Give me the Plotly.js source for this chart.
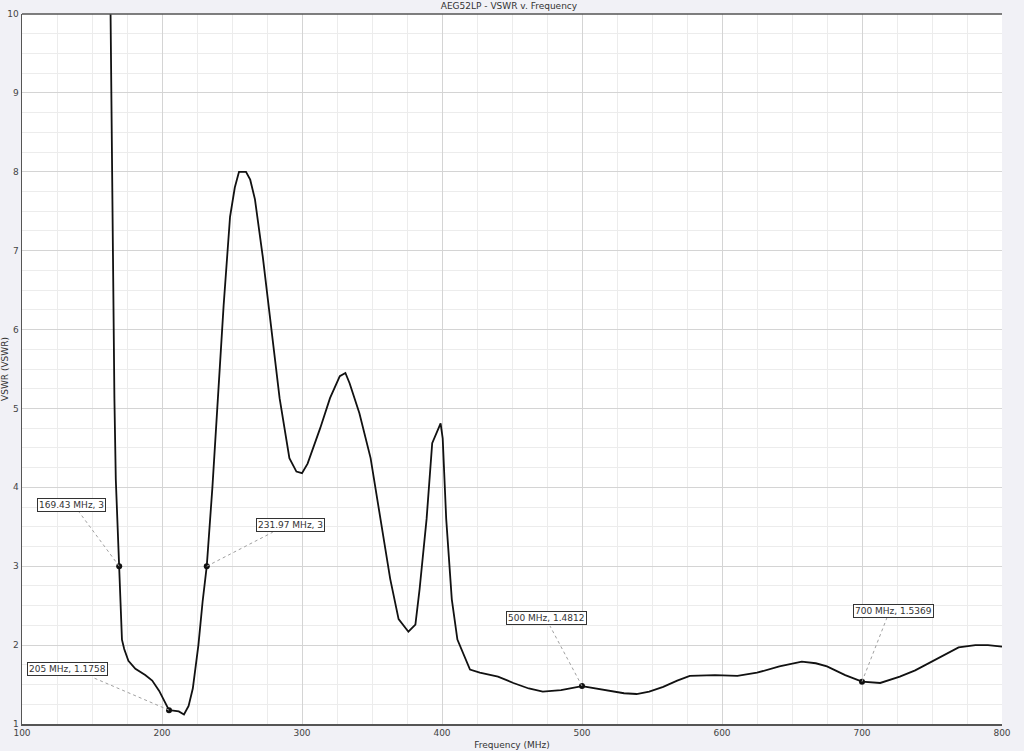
<!DOCTYPE html>
<html>
<head>
<meta charset="utf-8">
<script src="https://cdn.plot.ly/plotly-3.0.1.min.js"></script>
<style>
html,body{margin:0;padding:0;background:#f1f1f6;}
#chart{width:1024px;height:751px;}
</style>
</head>
<body>
<div id="chart"></div>
<script>
// Frequency (MHz) and VSWR
var freq = [162.7, 163.2, 163.6, 164.2, 164.8, 165.1, 166, 167, 169.43, 170.5, 171.4, 173, 176, 181, 188, 193, 198, 202, 205, 208, 212, 215.7, 219, 222, 226, 229, 231.97, 236, 240, 244, 248.6, 252, 255, 260, 263, 266.4, 272, 278, 284, 291, 296, 300, 304, 313, 320, 327, 331, 334, 341, 349, 356, 363, 369, 376, 381, 384, 389, 393, 399, 400.5, 403, 407, 411, 420, 427, 440, 451, 462, 472, 485, 500, 518, 530, 539, 548, 558, 568, 577, 595, 611, 625, 641, 657, 667, 675, 688, 700, 713, 727, 738, 749, 760, 769, 781, 790, 800];
var vswr = [11, 10, 9.19, 8.3, 7.08, 6.03, 5.13, 4.1, 3.0, 2.4, 2.07, 1.95, 1.8, 1.7, 1.62, 1.55, 1.42, 1.28, 1.1758, 1.17, 1.16, 1.12, 1.23, 1.45, 2.0, 2.55, 3.0, 4.0, 5.13, 6.3, 7.43, 7.8, 8.0, 8.0, 7.9, 7.65, 6.92, 6.0, 5.13, 4.37, 4.2, 4.18, 4.3, 4.75, 5.13, 5.41, 5.45, 5.32, 4.94, 4.37, 3.6, 2.84, 2.33, 2.17, 2.26, 2.71, 3.6, 4.56, 4.81, 4.62, 3.6, 2.58, 2.07, 1.69, 1.65, 1.6, 1.52, 1.45, 1.41, 1.43, 1.4812, 1.43, 1.39, 1.38, 1.41, 1.47, 1.55, 1.61, 1.62, 1.61, 1.65, 1.73, 1.79, 1.77, 1.73, 1.62, 1.5369, 1.52, 1.6, 1.68, 1.78, 1.88, 1.97, 2.0, 2.0, 1.98];

// Marker points
var markerFreq = [169.43, 205, 231.97, 500, 700];
var markerVswr = [3, 1.1758, 3, 1.4812, 1.5369];
var markerText = ["169.43 MHz, 3", "205 MHz, 1.1758", "231.97 MHz, 3", "500 MHz, 1.4812", "700 MHz, 1.5369"];

// Tick values
var xTicks = [100, 200, 300, 400, 500, 600, 700, 800];
var yTicks = [1, 2, 3, 4, 5, 6, 7, 8, 9, 10];

// Label placement (pixel offsets of box centre and leader end, screen coords)
var boxOffsets = [[-48, -61], [-102, -41], [84, -41], [-36, -68], [31, -71]];
var leaderEnds = [[-40, -54], [-77, -33], [66, -34], [-32, -60], [25, -64]];

var FONT = 'DejaVu Sans, Arial, sans-serif';

var annotations = markerFreq.map(function (f, i) {
  return {
    x: f, y: markerVswr[i], xref: 'x', yref: 'y',
    text: markerText[i],
    showarrow: true, arrowcolor: 'rgba(0,0,0,0)', arrowwidth: 0.1,
    ax: boxOffsets[i][0], ay: boxOffsets[i][1],
    bgcolor: '#ffffff', bordercolor: '#333333', borderwidth: 1, borderpad: 1,
    font: {family: FONT, size: 9, color: '#333333'}
  };
});

var shapes = markerFreq.map(function (f, i) {
  return {
    type: 'line', xref: 'x', yref: 'y',
    xsizemode: 'pixel', ysizemode: 'pixel',
    xanchor: f, yanchor: markerVswr[i],
    x0: 0, y0: 0, x1: leaderEnds[i][0], y1: -leaderEnds[i][1],
    line: {color: '#a0a0a0', width: 1, dash: 'dot'},
    layer: 'above'
  };
});

var traces = [
  {
    x: freq, y: vswr, type: 'scatter', mode: 'lines',
    line: {color: '#111111', width: 1.8},
    hoverinfo: 'x+y', showlegend: false
  },
  {
    x: markerFreq, y: markerVswr, type: 'scatter', mode: 'markers',
    marker: {color: '#111111', size: 6},
    showlegend: false
  }
];

var layout = {
  width: 1024, height: 751,
  margin: {l: 22, r: 22, t: 14, b: 27},
  paper_bgcolor: '#f1f1f6',
  plot_bgcolor: '#ffffff',
  font: {family: FONT, size: 9, color: '#444444'},
  showlegend: false,
  title: {
    text: 'AEG52LP - VSWR v. Frequency',
    font: {family: FONT, size: 9, color: '#333333'},
    x: 0.497, xanchor: 'center', y: 0.992, yanchor: 'middle'
  },
  xaxis: {
    range: [100, 800], tickvals: xTicks,
    showgrid: true, gridcolor: '#d4d4d4', gridwidth: 1,
    minor: {dtick: 25, tick0: 100, showgrid: true, gridcolor: '#ececec', gridwidth: 1},
    zeroline: false,
    showline: true, linecolor: '#555555', linewidth: 1.5, mirror: false,
    ticks: '', ticklen: 0,
    tickfont: {family: FONT, size: 9, color: '#444444'},
    title: {text: 'Frequency (MHz)', font: {family: FONT, size: 9, color: '#333333'}, standoff: 4},
    automargin: false
  },
  yaxis: {
    range: [1, 10], tickvals: yTicks,
    showgrid: true, gridcolor: '#d4d4d4', gridwidth: 1,
    minor: {dtick: 0.25, tick0: 1, showgrid: true, gridcolor: '#ececec', gridwidth: 1},
    zeroline: false,
    showline: true, linecolor: '#555555', linewidth: 1.5, mirror: false,
    ticks: '', ticklen: 0,
    tickfont: {family: FONT, size: 9, color: '#444444'},
    title: {text: 'VSWR (VSWR)', font: {family: FONT, size: 9, color: '#333333'}, standoff: 0},
    automargin: false
  },
  annotations: annotations,
  shapes: shapes.concat([
    {type: 'line', xref: 'paper', yref: 'paper', x0: 0, x1: 1, y0: 1, y1: 1,
     line: {color: '#555555', width: 1.5}, layer: 'above'}
  ])
};

Plotly.newPlot('chart', traces, layout, {displayModeBar: false, staticPlot: true});
</script>
</body>
</html>
